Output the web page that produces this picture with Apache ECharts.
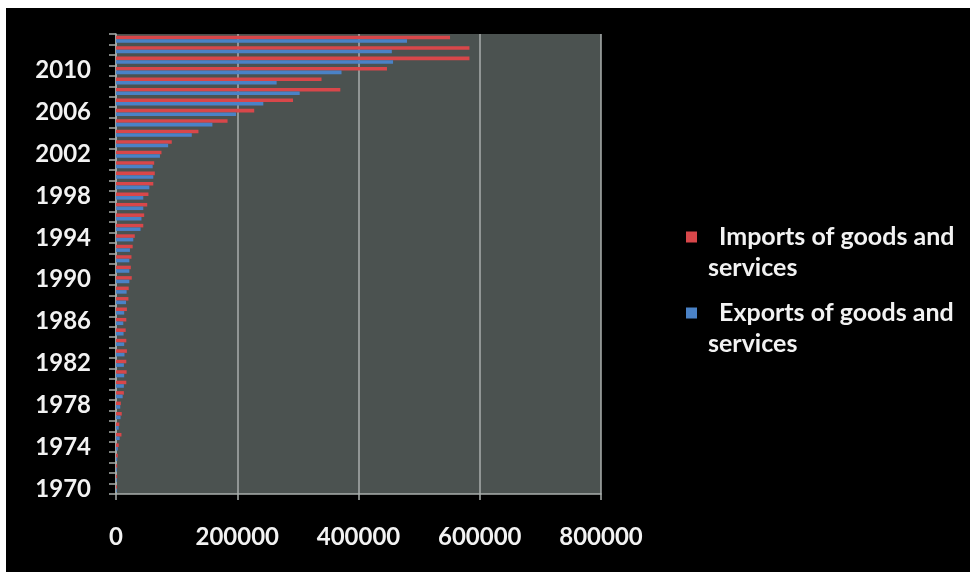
<!DOCTYPE html>
<html>
<head>
<meta charset="utf-8">
<script src="https://cdn.jsdelivr.net/npm/echarts@6/dist/echarts.min.js"></script>
<style>
html,body{margin:0;padding:0;background:#ffffff;width:970px;height:572px;overflow:hidden;}
#c{position:absolute;left:6px;top:8px;width:964px;height:564px;}
</style>
</head>
<body>
<div id="c"></div>
<script>
const years = ['1970','1971','1972','1973','1974','1975','1976','1977','1978','1979',
  '1980','1981','1982','1983','1984','1985','1986','1987','1988','1989',
  '1990','1991','1992','1993','1994','1995','1996','1997','1998','1999',
  '2000','2001','2002','2003','2004','2005','2006','2007','2008','2009',
  '2010','2011','2012','2013'];
const imports = [1600,1800,1900,2900,4500,9000,5500,9500,8000,13000,
  17000,17500,17000,18000,17000,16000,17000,18000,20500,21000,
  26000,24500,25500,27500,31000,45000,46500,51500,53500,61500,
  64000,63000,75000,92000,136000,184000,228000,292000,370000,339000,
  447000,583000,583000,551000];
const exportsV = [1200,1300,1500,2000,3000,6000,4500,7500,7000,11000,
  13000,13500,13000,14000,13500,12500,12000,13500,16500,17500,
  22000,22000,22000,23000,28500,40500,42000,45000,45000,55000,
  61500,60500,72500,86000,125000,159000,198000,243000,303000,265000,
  372000,457000,455000,480000];
const xTicks = [0, 200000, 400000, 600000, 800000];
const seriesNames = ['Imports of goods and services', 'Exports of goods and services'];
const legendLines = [['Imports of goods and', 'services'], ['Exports of goods and', 'services']];

const FONT = 'Lato';
const TXT = '#f2f2f2';
const chart = echarts.init(document.getElementById('c'));

function legendCfg(i, top) {
  return {
    data: [seriesNames[i]],
    left: 680,
    top: top,
    padding: 0,
    icon: 'rect',
    itemWidth: 11,
    itemHeight: 11,
    selectedMode: false,
    formatter: function () {
      return '{s| }\n{f|' + legendLines[i][0] + '}\n{a|' + legendLines[i][1] + '}';
    },
    textStyle: {
      color: TXT,
      fontFamily: FONT,
      fontWeight: 'bold',
      fontSize: 25,
      rich: {
        s: {lineHeight: 31, height: 31, fontSize: 25},
        f: {lineHeight: 31, fontSize: 25, fontFamily: FONT, fontWeight: 'bold', color: TXT, padding: [0, 0, 0, 17]},
        a: {lineHeight: 31, fontSize: 25, fontFamily: FONT, fontWeight: 'bold', color: TXT, padding: [0, 0, 0, 6]}
      }
    }
  };
}

chart.setOption({
  backgroundColor: '#000000',
  animation: false,
  textStyle: {fontFamily: FONT},
  grid: {
    left: 110, top: 26, width: 485, height: 460,
    show: true, backgroundColor: '#4b5250', borderWidth: 0
  },
  legend: [legendCfg(0, 229 - 46.5), legendCfg(1, 305 - 46.5)],
  xAxis: {
    type: 'value',
    min: xTicks[0], max: xTicks[xTicks.length - 1], interval: xTicks[1] - xTicks[0],
    axisLine: {show: true, lineStyle: {color: '#a9aeac', width: 1.5}},
    axisTick: {show: true, length: 6, lineStyle: {color: '#a9aeac', width: 1.5}},
    splitLine: {show: true, lineStyle: {color: '#a9aeac', width: 1.5}},
    axisLabel: {color: TXT, fontFamily: FONT, fontWeight: 'bold', fontSize: 24, margin: 31,
      formatter: function (v) { return String(v); }}
  },
  yAxis: {
    type: 'category',
    data: years,
    axisLine: {show: true, lineStyle: {color: '#a9aeac', width: 1.5}},
    axisTick: {show: true, interval: 0, length: 7, alignWithLabel: false, lineStyle: {color: '#a9aeac', width: 1.5}},
    splitLine: {show: false},
    axisLabel: {interval: 3, color: TXT, fontFamily: FONT, fontWeight: 'bold', fontSize: 24, margin: 25}
  },
  series: [
    {name: seriesNames[0], type: 'bar', data: imports, barGap: '0%', barCategoryGap: '32%',
      itemStyle: {color: '#d8474a'}},
    {name: seriesNames[1], type: 'bar', data: exportsV, barGap: '0%', barCategoryGap: '32%',
      itemStyle: {color: '#4a82c6'}}
  ]
});
</script>
</body>
</html>
